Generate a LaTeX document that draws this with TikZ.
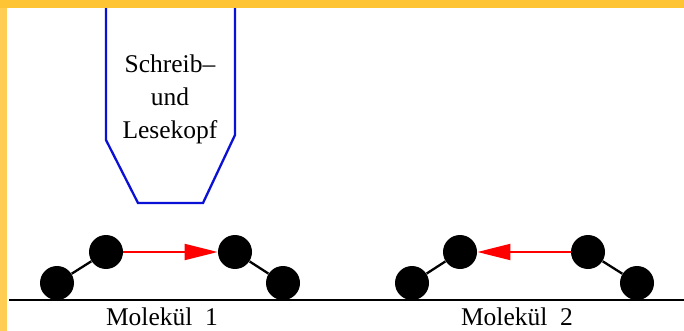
\documentclass[tikz,border=0pt]{standalone}
\usepackage{fontspec}
\setmainfont{Liberation Serif}
\usetikzlibrary{
    arrows.meta
}

\definecolor{frametop}{RGB}{255,196,51}
\definecolor{frameleft}{RGB}{255,204,84}
\definecolor{headblue}{RGB}{10,16,214}

\begin{document}
\begin{tikzpicture}[x=0.5pt, y=-0.5pt,
    every node/.style={font=\fontsize{12.75}{16.5}\selectfont},
    atom/.style={circle, fill=black, minimum size=17pt, inner sep=0pt},
    bond/.style={line width=1.15pt},
    flip/.style={color=red, line width=0.9pt, -{Triangle[length=16.5pt, width=8pt]}}]
    \clip (0,0) rectangle (684,331);
    \fill[white] (0,0) rectangle (684,331);

    \draw[headblue, line width=1.15pt] (106,0) -- (106,140) -- (138,203) -- (203,203) -- (235,135) -- (235,0);
    \node (kopf) [align=center] at (170,99) {Schreib--\\und\\Lesekopf};

    \coordinate (s0) at (9,300);
    \coordinate (s1) at (684,300);
    \draw[line width=1pt] (s0) -- (s1);

    \node[atom] (a1) at (57,283) {};
    \node[atom] (a2) at (106,252) {};
    \node[atom] (a3) at (235,252) {};
    \node[atom] (a4) at (283,283) {};
    \draw[bond] (a1) -- (a2);
    \draw[bond] (a3) -- (a4);
    \draw[flip] (a2) -- (a3);

    \node[atom] (b1) at (412,283) {};
    \node[atom] (b2) at (460,252) {};
    \node[atom] (b3) at (588,252) {};
    \node[atom] (b4) at (637,283) {};
    \draw[bond] (b1) -- (b2);
    \draw[bond] (b3) -- (b4);
    \draw[flip] (b3) -- (b2);

    \node (m1) [anchor=base, inner sep=0pt] at (162,325) {Molekül\ \ 1};
    \node (m2) [anchor=base, inner sep=0pt] at (517,325) {Molekül\ \ 2};

    \fill[frametop] (0,0) rectangle (684,8);
    \fill[frameleft] (0,8) rectangle (7,331);
\end{tikzpicture}
\end{document}
